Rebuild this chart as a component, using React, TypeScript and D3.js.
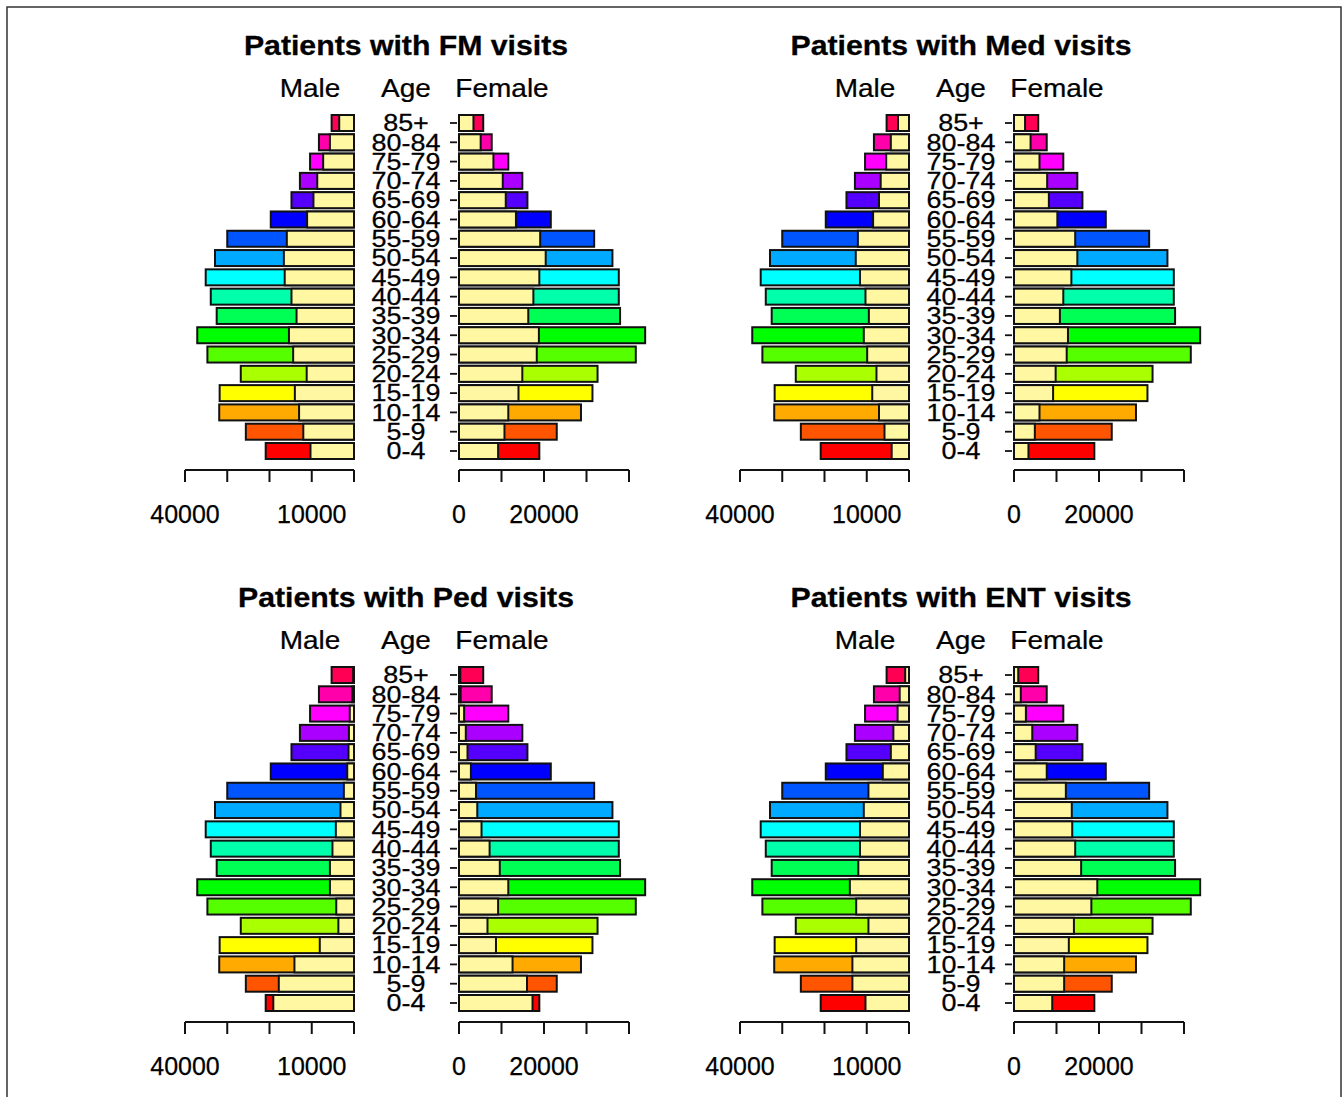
import React from "react";
import * as d3 from "d3";

const ages = ["0-4","5-9","10-14","15-19","20-24","25-29","30-34","35-39","40-44","45-49","50-54","55-59","60-64","65-69","70-74","75-79","80-84","85+"];
const ageColors = ["#FF0000","#FF5500","#FFAA00","#FFFF00","#AAFF00","#55FF00","#00FF00","#00FF55","#00FFAA","#00FFFF","#00AAFF","#0055FF","#0000FF","#5500FF","#AA00FF","#FF00FF","#FF00AA","#FF0055"];
const innerColor = "#FFF7A1";

const maleTotal = [20900,25600,31900,31800,26800,34700,37100,32500,33900,35100,32900,30000,19700,14800,12800,10400,8300,5300];
const femaleTotal = [18900,23000,28700,31400,32600,41600,43800,37900,37600,37600,36100,31800,21600,16100,14900,11600,7700,5700];

const fmMale = [10300,12000,13000,14000,11200,14400,15400,13600,14800,16400,16600,15900,11100,9600,8700,7300,5700,3500];
const fmFemale = [9200,10700,11600,14000,14900,18300,18800,16300,17500,18900,20400,19100,13400,11000,10300,8100,5100,3400];
const medMale = [4100,5800,7100,8700,7700,9900,10700,9500,10300,11600,12600,12100,8500,7100,6700,5400,4300,2600];
const medFemale = [3400,4900,6000,9200,9800,12400,12700,10800,11600,13500,14900,14400,10200,8200,7800,6000,3900,2600];
const pedMale = [19100,17800,14100,8100,3700,4200,5700,5700,5100,4300,3200,2400,1600,1300,1200,1000,400,200];
const pedFemale = [17300,16000,12600,8700,6700,9200,11600,9600,7200,5300,4300,4000,2800,2000,1600,1200,400,300];
const entMale = [10300,13400,13400,12500,9600,12500,14000,12000,11600,11600,10700,9600,6200,4300,3700,2700,2200,900];
const entFemale = [9000,11800,11800,12900,14100,18200,19600,15800,14400,13700,13600,12200,7700,5100,4300,2800,1600,1000];

const panelTitles = ["Patients with FM visits","Patients with Med visits","Patients with Ped visits","Patients with ENT visits"];
const axisTicks = [0,10000,20000,30000,40000];
const maleTickLabels = [40000,10000];
const femaleTickLabels = [0,20000];

const FONT = "'Liberation Sans', Arial, Helvetica, sans-serif";

function T({x,y,size,sx=1.12,bold=false,anchor="middle",children}:{x:number;y:number;size:number;sx?:number;bold?:boolean;anchor?:string;children:any}) {
  return (
    <text transform={`translate(${x},${y}) scale(${sx},1)`} textAnchor={anchor as any} fontSize={size} fontFamily={FONT} fontWeight={bold?"bold":"normal"} fill="#000" stroke="#000" strokeWidth={bold?0.3:0.25}>{children}</text>
  );
}

function Panel({dx,dy,title,inMale,inFemale}:{dx:number;dy:number;title:string;inMale:number[];inFemale:number[]}) {
  const xm = d3.scaleLinear().domain([0,40000]).range([354+dx,185+dx]);
  const xf = d3.scaleLinear().domain([0,40000]).range([459+dx,629+dx]);
  const y = d3.scalePoint<string>().domain(ages.slice().reverse()).range([123+dy,451+dy]);
  const bh = 16;
  const cx = 406+dx;
  const axisY = 470+dy;
  const sw = 2;
  return (
    <g>
      <T x={cx} y={55+dy} size={28} sx={1.08} bold>{title}</T>
      <T x={310+dx} y={97+dy} size={25}>Male</T>
      <T x={cx} y={97+dy} size={25}>Age</T>
      <T x={502+dx} y={97+dy} size={25}>Female</T>
      {ages.map((a,i)=>{
        const yc = y(a)!;
        return (
          <g key={a}>
            <rect x={xm(maleTotal[i])} y={yc-bh/2} width={xm(0)-xm(maleTotal[i])} height={bh} fill={ageColors[i]} stroke="#111" strokeWidth={sw}/>
            <rect x={xm(inMale[i])} y={yc-bh/2} width={xm(0)-xm(inMale[i])} height={bh} fill={innerColor} stroke="#111" strokeWidth={sw}/>
            <rect x={xf(0)} y={yc-bh/2} width={xf(femaleTotal[i])-xf(0)} height={bh} fill={ageColors[i]} stroke="#111" strokeWidth={sw}/>
            <rect x={xf(0)} y={yc-bh/2} width={xf(inFemale[i])-xf(0)} height={bh} fill={innerColor} stroke="#111" strokeWidth={sw}/>
            <line x1={450+dx} x2={457+dx} y1={yc} y2={yc} stroke="#111" strokeWidth={1.8}/>
            <T x={cx} y={yc+8.3} size={23} sx={1.17}>{a}</T>
          </g>
        );
      })}
      <line x1={xm(40000)} x2={xm(0)} y1={axisY} y2={axisY} stroke="#111" strokeWidth={2}/>
      <line x1={xf(0)} x2={xf(40000)} y1={axisY} y2={axisY} stroke="#111" strokeWidth={2}/>
      {axisTicks.map(t=>(
        <g key={t}>
          <line x1={xm(t)} x2={xm(t)} y1={axisY} y2={axisY+12} stroke="#111" strokeWidth={2}/>
          <line x1={xf(t)} x2={xf(t)} y1={axisY} y2={axisY+12} stroke="#111" strokeWidth={2}/>
        </g>
      ))}
      {maleTickLabels.map(t=>(<T key={"m"+t} x={xm(t)} y={523+dy} size={25} sx={1.0}>{String(t)}</T>))}
      {femaleTickLabels.map(t=>(<T key={"f"+t} x={xf(t)} y={523+dy} size={25} sx={1.0}>{String(t)}</T>))}
    </g>
  );
}

export default function App() {
  const panels = [
    {dx:0,dy:0,m:fmMale,f:fmFemale},
    {dx:555,dy:0,m:medMale,f:medFemale},
    {dx:0,dy:552,m:pedMale,f:pedFemale},
    {dx:555,dy:552,m:entMale,f:entFemale},
  ];
  return (
    <svg width={1343} height={1097} style={{position:"absolute",left:0,top:0,background:"#fff"}}>
      <rect x={0} y={0} width={1343} height={1097} fill="#fff"/>
      <rect x={7} y={7} width={1334} height={1100} fill="none" stroke="#333" strokeWidth={1.5}/>
      {panels.map((p,i)=>(<Panel key={i} dx={p.dx} dy={p.dy} title={panelTitles[i]} inMale={p.m} inFemale={p.f}/>))}
    </svg>
  );
}
